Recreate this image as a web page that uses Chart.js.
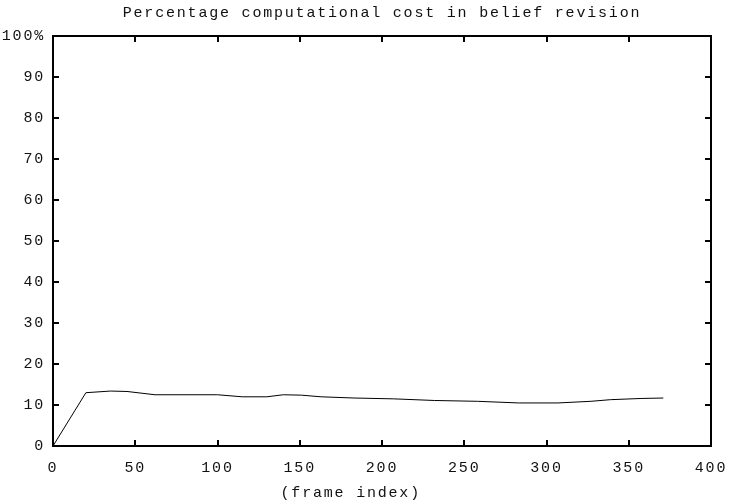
<!DOCTYPE html>
<html>
<head>
<meta charset="utf-8">
<script src="https://cdn.jsdelivr.net/npm/chart.js@4/dist/chart.umd.min.js"></script>
<style>
html,body{margin:0;padding:0;background:#fff;}
#wrap{width:729px;height:504px;position:relative;}
</style>
</head>
<body>
<div id="wrap"><canvas id="c" width="729" height="504"></canvas></div>
<script>
const chartTitle = "Percentage computational cost in belief revision";
const xAxisTitle = "(frame index)";
const frames = [0, 20, 35, 45, 62, 100, 115, 130, 140, 151, 163, 183, 207, 232, 258, 283, 307, 327, 339, 358, 371];
const cost   = [0, 13.0, 13.4, 13.3, 12.5, 12.5, 12.0, 12.0, 12.5, 12.4, 12.0, 11.7, 11.5, 11.1, 10.9, 10.5, 10.5, 10.9, 11.3, 11.6, 11.7];
const xTicks = [0, 50, 100, 150, 200, 250, 300, 350, 400];
const yTicks = [0, 10, 20, 30, 40, 50, 60, 70, 80, 90, 100];

const FONT = {family: "'Liberation Mono', 'DejaVu Sans Mono', monospace", size: 15, lineHeight: 1.2};
const TXT = '#111';
const SPACING = '1.8px';

const framePlugin = {
  id: 'frame',
  beforeDraw(chart) {
    chart.ctx.letterSpacing = SPACING;
  },
  afterDatasetsDraw(chart) {
    const {ctx, chartArea: a, scales} = chart;
    ctx.save();
    ctx.strokeStyle = '#000';
    ctx.lineWidth = 2;
    ctx.strokeRect(a.left, a.top, a.right - a.left, a.bottom - a.top);
    const tl = 6;
    ctx.beginPath();
    xTicks.forEach(v => {
      const px = Math.round(scales.x.getPixelForValue(v));
      ctx.moveTo(px, a.bottom); ctx.lineTo(px, a.bottom - tl);
      ctx.moveTo(px, a.top); ctx.lineTo(px, a.top + tl);
    });
    yTicks.forEach(v => {
      const py = Math.round(scales.y.getPixelForValue(v));
      ctx.moveTo(a.left, py); ctx.lineTo(a.left + tl, py);
      ctx.moveTo(a.right, py); ctx.lineTo(a.right - tl, py);
    });
    ctx.stroke();
    ctx.letterSpacing = SPACING;
    ctx.fillStyle = TXT;
    ctx.font = `${FONT.size}px ${FONT.family}`;
    ctx.textAlign = 'center';
    ctx.textBaseline = 'middle';
    // chart title centred over plot area
    ctx.fillText(chartTitle, (a.left + a.right) / 2, 13);
    // x-axis title (placed slightly left of centre, as in the original)
    ctx.fillText(xAxisTitle, scales.x.getPixelForValue(181), 493);
    ctx.restore();
  }
};

new Chart(document.getElementById('c'), {
  type: 'line',
  data: {
    datasets: [{
      data: frames.map((f, i) => ({x: f, y: cost[i]})),
      borderColor: '#000',
      borderWidth: 1,
      pointRadius: 0,
      tension: 0,
      fill: false
    }]
  },
  options: {
    responsive: false,
    animation: false,
    devicePixelRatio: 1,
    layout: {padding: {top: 36, right: 18, left: 0, bottom: 0}},
    plugins: {legend: {display: false}, tooltip: {enabled: false}, title: {display: false}},
    scales: {
      x: {
        type: 'linear', min: 0, max: 400,
        afterBuildTicks: s => { s.ticks = xTicks.map(v => ({value: v})); },
        afterFit: s => { s.height = 58; s.paddingLeft = 0; s.paddingRight = 0; },
        grid: {display: false, drawTicks: false},
        border: {display: false},
        ticks: {color: TXT, font: FONT, padding: 13, maxRotation: 0, autoSkip: false}
      },
      y: {
        type: 'linear', min: 0, max: 100,
        afterBuildTicks: s => { s.ticks = yTicks.map(v => ({value: v})); },
        afterFit: s => { s.width = 53; s.paddingTop = 0; s.paddingBottom = 0; },
        grid: {display: false, drawTicks: false},
        border: {display: false},
        ticks: {color: TXT, font: FONT, padding: 8, autoSkip: false,
          callback: v => v === 100 ? '100%' : String(v)}
      }
    }
  },
  plugins: [framePlugin]
});
</script>
</body>
</html>
